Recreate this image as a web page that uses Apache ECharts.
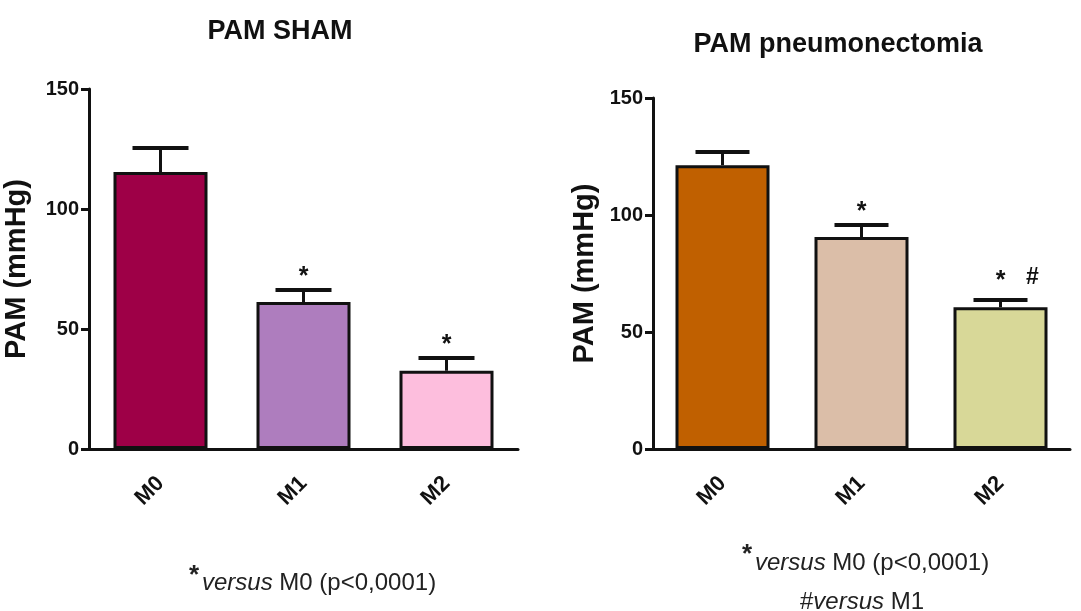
<!DOCTYPE html>
<html>
<head>
<meta charset="utf-8">
<script src="https://cdn.jsdelivr.net/npm/echarts@6/dist/echarts.min.js"></script>
<style>html,body{margin:0;padding:0;background:#fff}#c{width:1081px;height:611px}</style>
</head>
<body>
<div id="c"></div>
<script>
const categories = ['M0', 'M1', 'M2'];
const yTicks = [0, 50, 100, 150];

const shamTitle = 'PAM SHAM';
const shamMeans = [115.4, 61.2, 32.6];
const shamErrors = [10.0, 5.0, 5.3];
const shamStars = ['', '*', '*'];
const shamHashes = ['', '', ''];
const shamColors = ['#9E0047', '#AE7DBE', '#FDBEDD'];

const pneuTitle = 'PAM pneumonectomia';
const pneuMeans = [121.3, 90.6, 60.6];
const pneuErrors = [5.6, 5.1, 3.1];
const pneuStars = ['', '*', '*'];
const pneuHashes = ['', '', '#'];
const pneuColors = ['#C06000', '#DBBEA8', '#D8D898'];

const yName = 'PAM (mmHg)';
const footStar = '*';
const footLeft = '{i|versus} M0 (p<0,0001)';
const footRight1 = '{i|versus} M0 (p<0,0001)';
const footRight2 = '#{i|versus} M1';

const FONT = '"Liberation Sans", Arial, sans-serif';

function xAxisCfg(idx) {
  return {
    type: 'category', gridIndex: idx, data: categories,
    axisLine: { lineStyle: { color: '#111', width: 3 } },
    axisTick: { alignWithLabel: true, length: 9, lineStyle: { color: '#111', width: 3 } },
    axisLabel: { rotate: 45, margin: 31, color: '#111', fontWeight: 'bold', fontSize: 22, fontFamily: FONT }
  };
}
function yAxisCfg(idx, gap) {
  return {
    type: 'value', gridIndex: idx, min: 0, max: 150, interval: 50,
    name: yName, nameLocation: 'middle', nameGap: gap, nameRotate: 90,
    nameTextStyle: { color: '#111', fontWeight: 'bold', fontSize: 29, fontFamily: FONT },
    axisLine: { show: true, lineStyle: { color: '#111', width: 3 } },
    axisTick: { show: true, length: 8, lineStyle: { color: '#111', width: 3 } },
    splitLine: { show: false },
    axisLabel: { margin: 10, color: '#111', fontWeight: 'bold', fontSize: 20, fontFamily: FONT,
      formatter: v => yTicks.includes(v) ? String(v) : '' }
  };
}
function barSeries(idx, means, colors) {
  return {
    type: 'bar', xAxisIndex: idx, yAxisIndex: idx, barWidth: 94,
    data: means.map((v, i) => ({ value: v, itemStyle: { color: colors[i] } })),
    itemStyle: { borderColor: '#111', borderWidth: 3 },
    z: 2
  };
}
function errSeries(idx, means, errs, stars, hashes, capW) {
  return {
    type: 'custom', xAxisIndex: idx, yAxisIndex: idx, z: 5,
    data: means.map((m, i) => [i, m, m + errs[i]]),
    renderItem: function (params, api) {
      const x = api.coord([api.value(0), 0])[0];
      const yTop = api.coord([api.value(0), api.value(2)])[1];
      const yMean = api.coord([api.value(0), api.value(1)])[1];
      const star = stars[params.dataIndex];
      const hash = hashes[params.dataIndex];
      const children = [
        { type: 'line', shape: { x1: x, y1: yMean, x2: x, y2: yTop }, style: { stroke: '#111', lineWidth: 3 } },
        { type: 'line', shape: { x1: x - capW / 2, y1: yTop, x2: x + capW / 2, y2: yTop }, style: { stroke: '#111', lineWidth: 4 } }
      ];
      if (star) children.push({ type: 'text', x: x, y: yTop - (hash ? 19 : 13), style: { text: star, fill: '#111', font: 'bold 25px ' + FONT, align: 'center', verticalAlign: 'middle' } });
      if (hash) children.push({ type: 'text', x: x + 32, y: yTop - 22, style: { text: hash, fill: '#111', font: 'bold 23px ' + FONT, align: 'center', verticalAlign: 'middle' } });
      return { type: 'group', children: children };
    }
  };
}

const richFoot = {
  i: { fontStyle: 'italic', fontSize: 24, color: '#222' }
};

const option = {
  animation: false,
  backgroundColor: '#fff',
  title: [
    { text: shamTitle, left: 275, top: 13, textAlign: 'center', textStyle: { fontSize: 27, fontWeight: 'bold', color: '#111', fontFamily: FONT } },
    { text: pneuTitle, left: 833, top: 26, textAlign: 'center', textStyle: { fontSize: 27, fontWeight: 'bold', color: '#111', fontFamily: FONT } }
  ],
  grid: [
    { left: 89, top: 89, width: 429, height: 360 },
    { left: 653, top: 98, width: 417, height: 351 }
  ],
  xAxis: [xAxisCfg(0), xAxisCfg(1)],
  yAxis: [yAxisCfg(0, 58), yAxisCfg(1, 54)],
  series: [
    barSeries(0, shamMeans, shamColors),
    errSeries(0, shamMeans, shamErrors, shamStars, shamHashes, 56),
    barSeries(1, pneuMeans, pneuColors),
    errSeries(1, pneuMeans, pneuErrors, pneuStars, pneuHashes, 54)
  ],
  graphic: [
    { type: 'text', left: 189, top: 563, style: { text: footStar, fill: '#222', font: 'bold 26px ' + FONT } },
    { type: 'text', left: 202, top: 571, style: { text: footLeft, fill: '#222', font: '24px ' + FONT, rich: richFoot } },
    { type: 'text', left: 742, top: 542, style: { text: footStar, fill: '#222', font: 'bold 26px ' + FONT } },
    { type: 'text', left: 755, top: 551, style: { text: footRight1, fill: '#222', font: '24px ' + FONT, rich: richFoot } },
    { type: 'text', left: 800, top: 590, style: { text: footRight2, fill: '#222', font: '24px ' + FONT, rich: richFoot } }
  ]
};

const chart = echarts.init(document.getElementById('c'), null, { renderer: 'canvas' });
chart.setOption(option);
</script>
</body>
</html>
